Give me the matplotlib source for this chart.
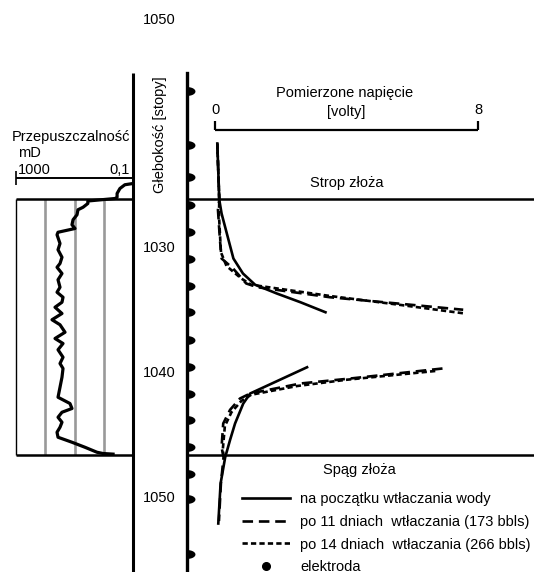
import numpy as np
import matplotlib
matplotlib.use('Agg')
import matplotlib.pyplot as plt
from matplotlib.lines import Line2D

plt.rcParams['font.family'] = ['Liberation Sans', 'DejaVu Sans']

# --- data ---
# permeability log (mD) against depth (ft)
perm_depth = [1025.0, 1025.1, 1025.4, 1025.8, 1026.1, 1026.2, 1026.4, 1026.6, 1026.9, 1027.1,
              1027.5, 1027.9, 1028.3, 1028.6, 1028.9, 1029.1, 1029.8, 1030.3, 1030.9, 1031.4,
              1031.7, 1032.2, 1032.7, 1033.3, 1033.7, 1034.1, 1034.5, 1034.9, 1035.4, 1035.9,
              1036.3, 1036.9, 1037.4, 1037.8, 1038.3, 1038.9, 1039.4, 1039.8, 1040.5, 1041.3,
              1042.1, 1042.6, 1043.0, 1043.3, 1043.7, 1044.1, 1044.5, 1044.9, 1045.3, 1045.7,
              1046.1, 1046.5, 1046.6, 1046.65]
perm_md = [0.10, 0.19, 0.28, 0.35, 0.35, 0.41, 3.5, 3.5, 5.1, 7.6,
           8.2, 11.2, 12.2, 9.6, 36.6, 39.6, 31.3, 36.6, 26.8, 31.3,
           39.6, 26.8, 36.6, 31.3, 39.6, 24.7, 26.8, 46.4, 26.8, 58.8,
           31.3, 21.1, 46.4, 24.7, 36.6, 24.7, 31.3, 24.7, 26.8, 31.3,
           36.6, 14.3, 12.2, 26.8, 36.6, 26.8, 31.3, 39.6, 36.6, 12.2,
           4.4, 1.7, 1.06, 0.48]

# measured voltage (V); NaN separates the upper and lower anomaly
v_start_depth = [1021.8, 1026.3, 1027.4, 1029.0, 1031.0, 1032.2, 1033.1, 1033.8, 1034.5, 1035.3,
                 np.nan, 1039.7, 1041.8, 1042.6, 1044.2, 1045.5, 1046.9, 1049.0, 1052.2]
v_start = [0.07, 0.13, 0.20, 0.36, 0.56, 0.85, 1.22, 1.88, 2.60, 3.36,
           np.nan, 2.80, 1.07, 0.86, 0.61, 0.46, 0.31, 0.17, 0.10]

v_11d_depth = [1021.8, 1026.3, 1027.1, 1029.5, 1031.0, 1031.8, 1033.0, 1033.3, 1034.1, 1034.6, 1035.1,
               np.nan, 1039.8, 1040.6, 1041.0, 1041.8, 1042.2, 1043.1, 1044.2, 1046.1, 1046.9, 1049.0, 1052.0]
v_11d = [0.07, 0.13, 0.09, 0.15, 0.20, 0.55, 0.95, 1.30, 3.50, 5.55, 7.55,
         np.nan, 6.92, 4.12, 2.60, 1.07, 0.76, 0.46, 0.25, 0.20, 0.26, 0.18, 0.12]

v_14d_depth = [1021.8, 1026.3, 1027.5, 1030.5, 1031.6, 1032.6, 1033.1, 1034.0, 1034.7, 1035.4,
               np.nan, 1040.0, 1040.7, 1041.2, 1041.9, 1042.4, 1043.3, 1044.4, 1046.2, 1046.9]
v_14d = [0.07, 0.13, 0.12, 0.18, 0.35, 0.80, 1.10, 3.50, 5.60, 7.60,
         np.nan, 6.70, 4.00, 2.50, 1.10, 0.80, 0.50, 0.30, 0.24, 0.26]

electrode_depth = [1017.6, 1021.9, 1024.5, 1026.7, 1028.9, 1031.0, 1033.2, 1035.3, 1037.5,
                   1039.7, 1041.8, 1043.9, 1046.1, 1048.2, 1050.2, 1054.6]

top_depth = 1026.24
bottom_depth = 1046.7
depth_ticks = [1030, 1040, 1050]
perm_range = [1000, 0.1]
perm_grid = [100, 10, 1]
volt_range = [0, 8]

labels = ['na początku wtłaczania wody',
          'po 11 dniach  wtłaczania (173 bbls)',
          'po 14 dniach  wtłaczania (266 bbls)',
          'elektroda']

# --- layout (pixels of a 534x572 figure) ---
W, H = 534, 572
DPI = 100
FS = 10.5


def px_depth(y):
    return 1030 + (y - 246) / 12.5


def ftext(x, y, s, **kw):
    fig.text(x / W, 1 - y / H, s, fontsize=FS, **kw)


fig = plt.figure(figsize=(W / DPI, H / DPI), dpi=DPI)
fig.patch.set_facecolor('white')

split = 187
ax_k = fig.add_axes([0, 0, split / W, 1])
ax_v = fig.add_axes([split / W, 0, 1 - split / W, 1])

ylim = (px_depth(H), px_depth(0))
for ax in (ax_k, ax_v):
    ax.set_ylim(ylim)
    ax.set_facecolor('none')
    for s in ax.spines.values():
        s.set_visible(False)
    ax.set_xticks([])

# permeability panel: log scale, 1000 at x=16px, 0.1 at x=133px
dec = 117 / 4.0
ax_k.set_xscale('log')
ax_k.set_xlim(10 ** (3 + 16 / dec), 10 ** (3 - (split - 16) / dec))
ax_k.set_yticks([])
ax_k.xaxis.set_minor_locator(matplotlib.ticker.NullLocator())

line_top = px_depth(73)
ax_k.vlines(perm_range[1], line_top, ylim[0], color='black', lw=2.2)
ax_k.vlines(perm_range[0], top_depth, bottom_depth, color='black', lw=1.0)
ax_k.vlines(perm_grid, top_depth, bottom_depth, color='#999999', lw=1.9)
ax_k.hlines([top_depth, bottom_depth], perm_range[1], perm_range[0], color='black', lw=1.8)
ax_k.hlines(px_depth(178), perm_range[1], perm_range[0], color='black', lw=1.4)
ax_k.vlines(perm_range[0], px_depth(171), px_depth(185), color='black', lw=1.2)
ax_k.plot(perm_md, perm_depth, color='black', lw=2.3, solid_joinstyle='round')

# voltage panel: 0 V at x=215px, 8 V at x=478px
vpx = (478 - 215) / 8.0
ax_v.set_xlim((split - 215) / vpx, (W - 215) / vpx)
ax_v.spines['left'].set_visible(True)
ax_v.spines['left'].set_linewidth(2.4)
ax_v.spines['left'].set_bounds(line_top, ylim[0])
ax_v.set_yticks(depth_ticks)
ax_v.tick_params(axis='y', length=0, pad=8, labelsize=FS)

ax_v.axhline(top_depth, xmin=0, xmax=1, color='black', lw=1.8)
ax_v.axhline(bottom_depth, xmin=0, xmax=1, color='black', lw=1.8)

ax_v.hlines(px_depth(130), volt_range[0], volt_range[1], color='black', lw=1.6)
ax_v.vlines(volt_range, px_depth(121), px_depth(130), color='black', lw=1.6)

LW = 1.9
ax_v.plot(v_start, v_start_depth, color='black', lw=LW)
ax_v.plot(v_11d, v_11d_depth, color='black', lw=LW, dashes=(4.0, 2.2))
ax_v.plot(v_14d, v_14d_depth, color='black', lw=LW, dashes=(2.0, 1.2))

half_dot = [(0, -0.55)] + [(np.cos(t), 0.55 * np.sin(t)) for t in np.linspace(-np.pi / 2, np.pi / 2, 15)] + [(0, 0.55)]
ax_v.plot(np.zeros(len(electrode_depth)), electrode_depth, linestyle='none',
          marker=half_dot, markersize=11.5, color='black', markeredgewidth=0,
          transform=ax_v.get_yaxis_transform(), clip_on=False)

handles = [Line2D([], [], color='black', lw=LW),
           Line2D([], [], color='black', lw=LW, dashes=(4.0, 2.2)),
           Line2D([], [], color='black', lw=LW, dashes=(2.0, 1.2)),
           Line2D([], [], color='black', linestyle='none', marker='o', markersize=5.5)]
fig.legend(handles, labels, loc='upper left', bbox_to_anchor=(242 / W, 1 - 492 / H),
           frameon=False, fontsize=FS, handlelength=3.3, handletextpad=0.68,
           labelspacing=0.6, borderpad=0, borderaxespad=0)

# texts
ftext(159, 20, '1050', ha='center', va='center')
ftext(160, 135, 'Głebokość [stopy]', ha='center', va='center', rotation=90)
ftext(71, 137, 'Przepuszczalność', ha='center', va='center')
ftext(18, 153, 'mD', ha='left', va='center')
ftext(18, 170, '1000', ha='left', va='center')
ftext(130, 170, '0,1', ha='right', va='center')
ftext(345, 93, 'Pomierzone napięcie', ha='center', va='center')
ftext(346, 112, '[volty]', ha='center', va='center')
ftext(215, 110, '0', ha='center', va='center')
ftext(478, 110, '8', ha='center', va='center')
ftext(347, 183, 'Strop złoża', ha='center', va='center')
ftext(359, 470, 'Spąg złoża', ha='center', va='center')

fig.savefig('out.png', dpi=DPI)
